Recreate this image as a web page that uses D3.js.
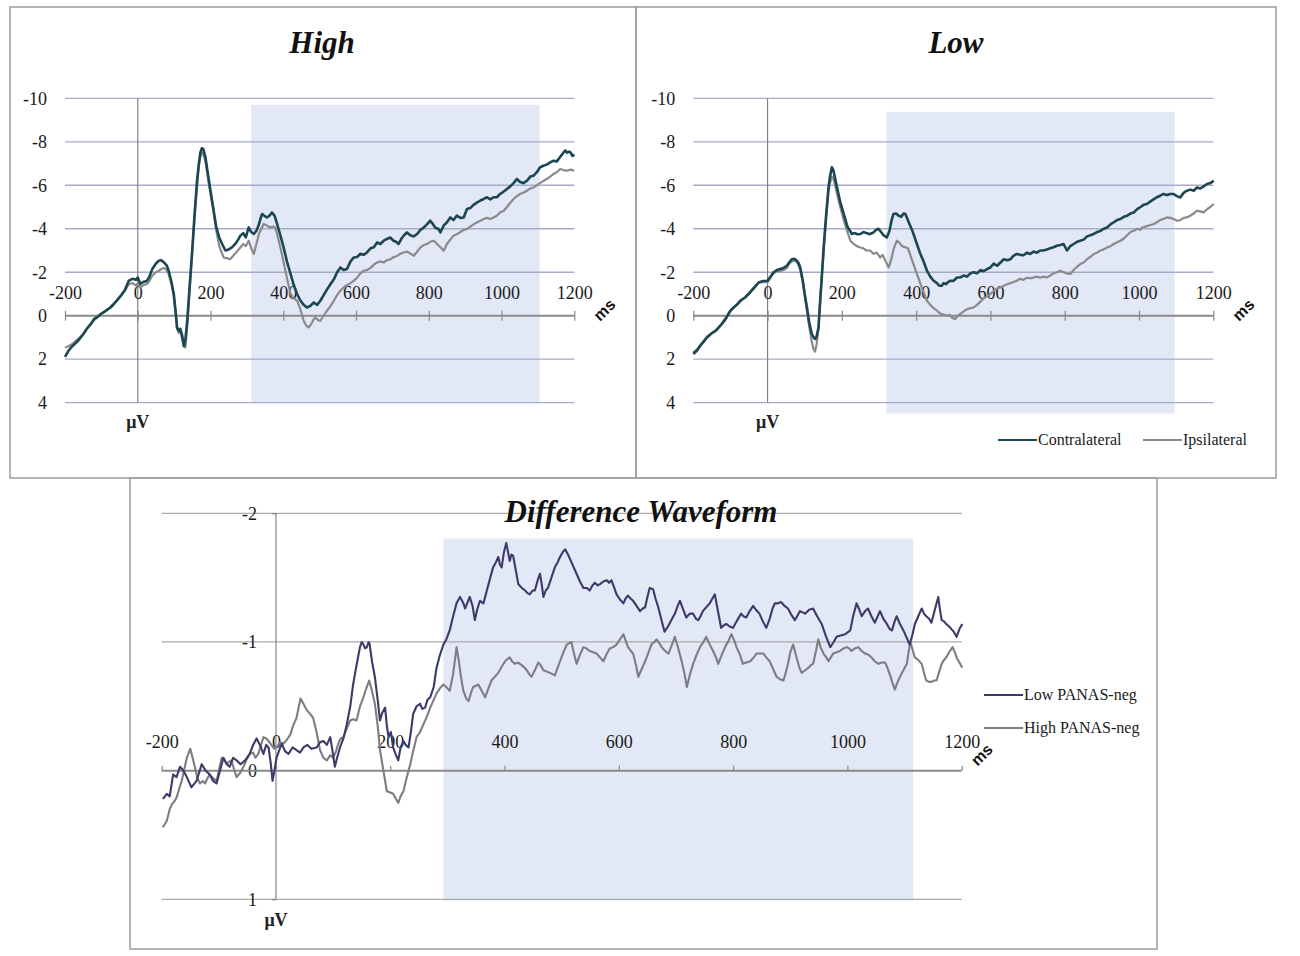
<!DOCTYPE html>
<html><head><meta charset="utf-8">
<script src="https://cdn.jsdelivr.net/npm/d3@7"></script>
<style>
body{margin:0;background:#fff}
svg{display:block}
</style>
</head><body>
<svg id="c" width="1300" height="956"></svg>
<script>
// ---------------- DATA ----------------
const xTicks = [-200, 0, 200, 400, 600, 800, 1000, 1200];
const yTicksTop = [-10, -8, -6, -4, -2, 0, 2, 4];
const yTicksDiff = [-2, -1, 0, 1];
const panelTitles = ["High", "Low", "Difference Waveform"];
const legendTop = ["Contralateral", "Ipsilateral"];
const legendDiff = ["Low PANAS-neg", "High PANAS-neg"];
// analysis windows: [startMs, endMs, topValue, bottomValue]
const windowHigh = [312, 1105, -9.7, 4];
const windowLow = [320, 1096, -9.38, 4.5];
const windowDiff = [293, 1115, -1.805, 1.01];

const highContra = [[-200,1.89],[-190,1.6],[-180,1.4],[-170,1.25],[-160,1.07],[-150,0.85],[-140,0.6],[-130,0.4],[-120,0.15],[-110,0.05],[-100,-0.1],[-90,-0.2],[-75,-0.38],[-65,-0.55],[-55,-0.75],[-45,-0.95],[-35,-1.2],[-25,-1.6],[-15,-1.7],[-5,-1.65],[0,-1.76],[7,-1.46],[15,-1.55],[25,-1.6],[32,-1.8],[40,-2.15],[50,-2.4],[58,-2.53],[65,-2.55],[72,-2.45],[80,-2.3],[85,-2.07],[92,-1.6],[99,-1.0],[104,-0.2],[108,0.54],[113,0.7],[117,0.6],[122,0.9],[127,1.4],[131,1.1],[136,0.23],[142,-1.2],[149,-2.84],[156,-4.6],[163,-6.2],[168,-7.0],[172,-7.5],[176,-7.7],[180,-7.67],[186,-7.3],[193,-6.5],[200,-5.75],[208,-4.9],[216,-4.06],[224,-3.6],[232,-3.3],[241,-3.0],[250,-3.05],[259,-3.14],[268,-3.3],[276,-3.5],[282,-3.68],[290,-3.8],[297,-3.6],[305,-4.06],[312,-3.85],[319,-3.76],[326,-3.9],[333,-4.2],[338,-4.5],[342,-4.68],[348,-4.6],[355,-4.52],[362,-4.6],[369,-4.75],[376,-4.6],[383,-4.22],[392,-3.7],[401,-3.14],[410,-2.5],[420,-1.92],[429,-1.4],[438,-1.0],[447,-0.7],[456,-0.5],[465,-0.38],[474,-0.45],[484,-0.61],[493,-0.5],[502,-0.69],[511,-0.95],[520,-1.2],[530,-1.46],[540,-1.7],[548,-2.0],[557,-2.22],[566,-2.1],[575,-2.15],[585,-2.5],[594,-2.68],[603,-2.7],[612,-2.85],[621,-2.8],[630,-2.91],[640,-3.1],[649,-3.15],[658,-3.37],[667,-3.3],[676,-3.45],[685,-3.53],[694,-3.6],[703,-3.45],[710,-3.4],[717,-3.3],[725,-3.55],[732,-3.7],[740,-3.83],[749,-3.7],[758,-3.65],[768,-3.76],[777,-3.95],[786,-4.05],[795,-4.2],[804,-4.37],[812,-4.2],[818,-4.05],[826,-4.0],[832,-3.83],[841,-4.15],[850,-4.3],[859,-4.52],[868,-4.4],[877,-4.6],[887,-4.5],[896,-4.52],[905,-4.91],[914,-4.95],[923,-5.1],[932,-5.2],[942,-5.3],[951,-5.37],[960,-5.45],[969,-5.35],[978,-5.45],[987,-5.45],[996,-5.6],[1005,-5.7],[1015,-5.83],[1024,-5.95],[1033,-6.1],[1042,-6.29],[1051,-6.15],[1060,-6.1],[1070,-6.21],[1079,-6.4],[1088,-6.44],[1097,-6.6],[1106,-6.83],[1115,-6.9],[1124,-6.95],[1134,-7.05],[1143,-7.13],[1152,-7.1],[1161,-7.3],[1170,-7.5],[1175,-7.6],[1180,-7.5],[1185,-7.55],[1189,-7.52],[1195,-7.35],[1200,-7.41]];

const highIpsi = [[-200,1.46],[-190,1.4],[-180,1.3],[-170,1.15],[-160,1.0],[-150,0.85],[-140,0.6],[-130,0.4],[-120,0.2],[-110,0.05],[-100,-0.08],[-90,-0.2],[-75,-0.4],[-65,-0.55],[-55,-0.75],[-45,-0.95],[-35,-1.15],[-25,-1.45],[-15,-1.5],[-5,-1.4],[0,-1.5],[7,-1.3],[15,-1.4],[25,-1.46],[32,-1.6],[40,-1.85],[50,-2.0],[58,-2.07],[65,-2.15],[72,-2.2],[80,-2.1],[85,-1.9],[92,-1.5],[99,-0.9],[104,-0.1],[108,0.6],[113,0.8],[117,0.7],[122,1.1],[127,1.4],[131,1.46],[136,0.5],[142,-1.0],[149,-2.7],[156,-4.5],[163,-6.0],[168,-6.9],[172,-7.3],[177,-7.5],[181,-7.4],[186,-7.1],[193,-6.3],[200,-5.6],[208,-4.8],[216,-3.9],[224,-3.2],[236,-2.68],[245,-2.65],[254,-2.6],[262,-2.75],[270,-2.9],[282,-3.14],[290,-3.3],[297,-3.2],[305,-3.45],[312,-3.1],[319,-2.84],[326,-3.3],[333,-3.76],[340,-4.0],[346,-4.22],[355,-4.15],[364,-4.06],[371,-4.1],[378,-4.06],[387,-3.5],[396,-2.84],[408,-1.9],[420,-1.0],[429,-0.8],[438,-0.69],[447,-0.3],[456,0.23],[463,0.45],[470,0.54],[478,0.35],[484,0.15],[488,0.08],[495,0.2],[502,0.23],[511,0.0],[520,-0.23],[530,-0.45],[539,-0.69],[548,-0.95],[557,-1.15],[566,-1.3],[575,-1.4],[585,-1.5],[594,-1.61],[603,-1.75],[612,-1.95],[621,-2.07],[630,-2.1],[640,-2.2],[649,-2.35],[658,-2.45],[667,-2.5],[676,-2.45],[685,-2.55],[695,-2.6],[704,-2.7],[713,-2.75],[722,-2.85],[731,-2.91],[741,-2.95],[750,-2.85],[759,-2.76],[768,-2.95],[777,-3.14],[786,-3.25],[795,-3.3],[804,-3.4],[814,-3.45],[823,-3.3],[832,-3.15],[841,-2.99],[850,-3.3],[859,-3.5],[868,-3.68],[877,-3.75],[887,-3.85],[896,-3.95],[905,-3.99],[914,-4.1],[923,-4.2],[933,-4.3],[942,-4.37],[951,-4.45],[960,-4.5],[969,-4.45],[978,-4.52],[987,-4.6],[996,-4.75],[1006,-4.83],[1015,-5.0],[1024,-5.2],[1033,-5.37],[1042,-5.5],[1051,-5.6],[1061,-5.67],[1070,-5.75],[1079,-5.85],[1088,-5.9],[1097,-6.0],[1106,-6.1],[1116,-6.21],[1125,-6.3],[1134,-6.4],[1143,-6.52],[1152,-6.6],[1161,-6.75],[1170,-6.7],[1180,-6.67],[1190,-6.72],[1200,-6.67]];

const lowContra = [[-200,1.76],[-190,1.6],[-180,1.35],[-170,1.15],[-163,1.0],[-150,0.8],[-140,0.7],[-127,0.46],[-115,0.2],[-100,-0.23],[-90,-0.4],[-80,-0.55],[-74,-0.69],[-60,-0.85],[-47,-1.07],[-35,-1.3],[-24,-1.53],[-12,-1.6],[0,-1.61],[8,-1.8],[16,-2.0],[25,-2.1],[34,-2.15],[43,-2.2],[52,-2.3],[58,-2.45],[65,-2.6],[72,-2.62],[79,-2.53],[84,-2.4],[88,-2.22],[95,-1.6],[100,-1.0],[106,-0.38],[112,0.3],[119,0.84],[124,1.0],[128,1.07],[132,0.95],[137,0.54],[142,-0.8],[146,-1.8],[151,-3.14],[157,-4.5],[164,-5.9],[168,-6.4],[173,-6.83],[177,-6.7],[182,-6.3],[187,-5.9],[196,-5.2],[205,-4.68],[215,-4.1],[227,-3.76],[235,-3.8],[242,-3.75],[250,-3.76],[258,-3.85],[266,-3.8],[275,-3.75],[285,-3.83],[292,-3.95],[298,-4.0],[303,-3.91],[312,-3.7],[321,-3.6],[328,-3.9],[334,-4.4],[339,-4.68],[346,-4.7],[353,-4.6],[360,-4.55],[366,-4.7],[371,-4.68],[380,-4.3],[390,-3.9],[402,-3.3],[410,-2.9],[420,-2.5],[429,-2.07],[438,-1.8],[447,-1.61],[456,-1.5],[462,-1.38],[469,-1.38],[474,-1.5],[480,-1.45],[486,-1.55],[492,-1.61],[500,-1.6],[510,-1.76],[519,-1.76],[528,-1.85],[537,-1.8],[546,-1.95],[555,-2.0],[564,-1.95],[573,-2.1],[582,-2.05],[591,-2.15],[600,-2.22],[609,-2.4],[618,-2.3],[627,-2.45],[636,-2.6],[645,-2.55],[654,-2.6],[662,-2.75],[671,-2.84],[680,-2.8],[689,-2.78],[698,-2.9],[707,-2.84],[716,-2.95],[725,-2.9],[734,-3.0],[743,-3.0],[752,-3.05],[761,-3.1],[770,-3.15],[779,-3.22],[788,-3.25],[797,-3.3],[806,-3.0],[815,-3.2],[824,-3.3],[833,-3.4],[842,-3.45],[851,-3.5],[860,-3.65],[869,-3.7],[878,-3.76],[887,-3.85],[896,-3.9],[905,-4.0],[914,-4.06],[923,-4.2],[932,-4.3],[941,-4.4],[950,-4.45],[959,-4.55],[968,-4.6],[977,-4.7],[986,-4.75],[995,-4.9],[1004,-5.0],[1012,-5.1],[1021,-5.14],[1030,-5.25],[1039,-5.35],[1048,-5.45],[1057,-5.52],[1066,-5.6],[1075,-5.55],[1084,-5.6],[1093,-5.6],[1102,-5.5],[1111,-5.44],[1120,-5.65],[1129,-5.75],[1138,-5.8],[1147,-5.75],[1156,-5.9],[1165,-5.85],[1174,-5.95],[1183,-6.06],[1192,-6.1],[1201,-6.21]];

const lowIpsi = [[-200,1.69],[-190,1.55],[-180,1.35],[-170,1.1],[-163,0.95],[-150,0.8],[-140,0.68],[-127,0.45],[-115,0.15],[-100,-0.25],[-90,-0.4],[-80,-0.55],[-74,-0.65],[-60,-0.85],[-47,-1.1],[-35,-1.35],[-24,-1.53],[-12,-1.55],[0,-1.55],[8,-1.75],[16,-1.95],[25,-2.05],[34,-2.05],[43,-2.1],[52,-2.2],[58,-2.4],[65,-2.5],[72,-2.55],[79,-2.45],[84,-2.3],[88,-2.1],[95,-1.5],[100,-0.9],[106,-0.2],[112,0.5],[119,1.2],[124,1.55],[128,1.65],[132,1.3],[137,0.6],[142,-0.8],[146,-1.8],[151,-3.0],[157,-4.3],[164,-5.7],[168,-6.1],[173,-6.4],[177,-6.3],[182,-6.0],[187,-5.6],[196,-4.98],[205,-4.4],[214,-3.9],[223,-3.45],[232,-3.3],[240,-3.2],[250,-3.14],[258,-3.1],[266,-3.0],[276,-3.0],[285,-2.85],[294,-2.9],[303,-2.68],[310,-2.8],[318,-2.5],[326,-2.22],[333,-2.6],[340,-3.1],[348,-3.45],[355,-3.35],[362,-3.2],[370,-3.15],[378,-3.1],[388,-2.6],[402,-1.92],[415,-1.3],[429,-0.69],[438,-0.5],[447,-0.35],[456,-0.23],[465,-0.1],[474,-0.05],[483,0.0],[490,-0.05],[497,0.1],[505,0.15],[512,0.0],[519,-0.08],[528,-0.2],[537,-0.3],[546,-0.35],[555,-0.38],[564,-0.5],[573,-0.65],[582,-0.8],[591,-0.9],[600,-1.0],[609,-1.15],[618,-1.25],[627,-1.3],[636,-1.38],[645,-1.45],[654,-1.5],[662,-1.55],[671,-1.61],[680,-1.7],[689,-1.65],[698,-1.75],[707,-1.72],[716,-1.76],[725,-1.8],[734,-1.75],[743,-1.8],[752,-1.76],[761,-1.85],[770,-1.95],[779,-2.0],[788,-2.07],[797,-2.0],[806,-1.95],[815,-1.92],[824,-2.1],[833,-2.25],[842,-2.38],[851,-2.45],[860,-2.6],[869,-2.7],[878,-2.84],[887,-2.9],[896,-3.0],[905,-3.05],[914,-3.14],[923,-3.2],[932,-3.3],[941,-3.38],[950,-3.45],[959,-3.55],[968,-3.7],[977,-3.85],[986,-3.91],[995,-4.0],[1004,-3.95],[1008,-4.06],[1017,-4.1],[1026,-4.15],[1040,-4.22],[1048,-4.3],[1057,-4.4],[1066,-4.45],[1075,-4.52],[1084,-4.5],[1093,-4.45],[1102,-4.37],[1111,-4.4],[1120,-4.5],[1129,-4.52],[1138,-4.6],[1147,-4.7],[1156,-4.83],[1165,-4.8],[1174,-4.75],[1183,-4.9],[1192,-5.0],[1201,-5.14]];

const lowPanas = [[-198,0.22],[-191,0.18],[-186,0.2],[-180,0.03],[-174,0.05],[-168,-0.03],[-162,0.0],[-156,0.05],[-148,0.13],[-139,0.08],[-130,-0.05],[-123,0.0],[-116,0.03],[-110,0.08],[-104,0.1],[-98,0.0],[-92,-0.1],[-86,-0.05],[-81,-0.03],[-75,-0.1],[-69,-0.08],[-62,-0.05],[-54,-0.08],[-46,-0.13],[-40,-0.2],[-34,-0.25],[-28,-0.2],[-22,-0.13],[-17,-0.2],[-13,-0.18],[-9,-0.05],[-6,0.08],[-2,-0.02],[1,-0.1],[5,-0.15],[10,-0.21],[16,-0.15],[22,-0.13],[29,-0.18],[36,-0.16],[42,-0.14],[48,-0.18],[55,-0.2],[62,-0.17],[71,-0.18],[77,-0.22],[83,-0.23],[89,-0.2],[95,-0.26],[99,-0.15],[103,-0.03],[107,-0.1],[112,-0.18],[118,-0.25],[124,-0.36],[130,-0.5],[135,-0.67],[141,-0.82],[147,-0.96],[150,-1.0],[153,-0.98],[156,-0.95],[159,-0.96],[162,-1.0],[164,-0.98],[168,-0.85],[173,-0.73],[178,-0.55],[182,-0.39],[186,-0.45],[191,-0.49],[194,-0.35],[197,-0.26],[201,-0.3],[205,-0.18],[210,-0.12],[214,-0.08],[218,-0.18],[223,-0.23],[227,-0.2],[232,-0.18],[236,-0.3],[240,-0.44],[246,-0.5],[252,-0.52],[256,-0.48],[261,-0.49],[265,-0.55],[270,-0.57],[276,-0.65],[281,-0.8],[287,-0.9],[293,-0.98],[298,-1.02],[304,-1.09],[310,-1.2],[316,-1.3],[322,-1.35],[328,-1.3],[331,-1.26],[339,-1.35],[344,-1.28],[348,-1.17],[352,-1.25],[357,-1.32],[363,-1.3],[369,-1.4],[375,-1.5],[380,-1.58],[385,-1.62],[389,-1.66],[392,-1.6],[395,-1.58],[399,-1.7],[403,-1.77],[406,-1.7],[409,-1.63],[412,-1.68],[415,-1.67],[420,-1.55],[424,-1.45],[430,-1.42],[436,-1.4],[440,-1.38],[444,-1.37],[449,-1.4],[453,-1.4],[458,-1.48],[462,-1.53],[465,-1.45],[468,-1.35],[472,-1.4],[476,-1.42],[482,-1.5],[488,-1.58],[493,-1.62],[497,-1.66],[502,-1.7],[506,-1.72],[511,-1.68],[517,-1.62],[522,-1.57],[526,-1.53],[532,-1.47],[538,-1.42],[544,-1.42],[549,-1.4],[554,-1.44],[558,-1.46],[563,-1.44],[567,-1.45],[573,-1.47],[579,-1.48],[583,-1.46],[587,-1.48],[592,-1.42],[596,-1.37],[602,-1.33],[608,-1.3],[612,-1.34],[616,-1.36],[620,-1.34],[625,-1.32],[631,-1.28],[637,-1.24],[642,-1.26],[646,-1.27],[650,-1.35],[654,-1.42],[660,-1.41],[664,-1.34],[669,-1.27],[674,-1.18],[680,-1.08],[686,-1.12],[692,-1.17],[698,-1.22],[703,-1.28],[707,-1.32],[712,-1.26],[718,-1.19],[724,-1.22],[730,-1.22],[735,-1.18],[739,-1.17],[743,-1.2],[747,-1.24],[753,-1.27],[759,-1.3],[764,-1.34],[768,-1.37],[773,-1.25],[779,-1.11],[784,-1.13],[788,-1.14],[794,-1.12],[800,-1.11],[806,-1.16],[814,-1.22],[818,-1.2],[823,-1.19],[829,-1.24],[835,-1.28],[840,-1.25],[846,-1.22],[852,-1.16],[858,-1.11],[864,-1.18],[869,-1.26],[873,-1.3],[878,-1.3],[884,-1.31],[890,-1.28],[896,-1.26],[902,-1.21],[908,-1.17],[912,-1.2],[917,-1.24],[926,-1.22],[933,-1.25],[940,-1.26],[947,-1.2],[955,-1.14],[962,-1.05],[970,-0.96],[976,-1.0],[981,-1.04],[988,-1.05],[996,-1.06],[1005,-1.09],[1010,-1.2],[1016,-1.3],[1021,-1.25],[1025,-1.2],[1031,-1.24],[1036,-1.26],[1042,-1.2],[1048,-1.15],[1053,-1.2],[1057,-1.24],[1063,-1.18],[1069,-1.14],[1074,-1.1],[1078,-1.09],[1082,-1.15],[1086,-1.2],[1092,-1.14],[1098,-1.09],[1104,-1.03],[1109,-0.98],[1114,-1.06],[1118,-1.14],[1124,-1.2],[1130,-1.26],[1134,-1.22],[1138,-1.2],[1143,-1.18],[1147,-1.15],[1153,-1.25],[1159,-1.35],[1162,-1.25],[1165,-1.17],[1169,-1.16],[1173,-1.14],[1178,-1.12],[1182,-1.1],[1186,-1.08],[1191,-1.04],[1196,-1.1],[1201,-1.14]];

const highPanas = [[-198,0.44],[-191,0.39],[-186,0.3],[-182,0.26],[-178,0.24],[-174,0.21],[-170,0.15],[-165,0.08],[-160,-0.02],[-156,-0.1],[-150,-0.17],[-146,-0.1],[-142,-0.03],[-138,0.05],[-133,0.1],[-128,0.08],[-124,0.1],[-120,0.06],[-116,0.03],[-110,0.06],[-104,0.08],[-99,-0.02],[-95,-0.1],[-90,-0.08],[-86,-0.05],[-82,-0.07],[-78,-0.08],[-74,-0.02],[-69,0.05],[-63,0.02],[-57,-0.03],[-52,-0.08],[-46,-0.13],[-40,-0.14],[-36,-0.1],[-31,-0.13],[-26,-0.2],[-22,-0.26],[-17,-0.25],[-13,-0.23],[-8,-0.2],[-3,-0.17],[1,-0.18],[7,-0.22],[13,-0.21],[19,-0.24],[25,-0.28],[30,-0.35],[36,-0.41],[40,-0.5],[43,-0.56],[48,-0.52],[54,-0.47],[60,-0.44],[65,-0.41],[71,-0.3],[77,-0.16],[83,-0.1],[89,-0.08],[95,-0.12],[100,-0.1],[105,-0.15],[109,-0.21],[113,-0.25],[118,-0.26],[124,-0.33],[130,-0.39],[135,-0.4],[141,-0.39],[147,-0.5],[153,-0.57],[158,-0.64],[163,-0.7],[168,-0.62],[173,-0.52],[178,-0.35],[182,-0.16],[188,0.0],[194,0.16],[200,0.17],[205,0.18],[210,0.22],[214,0.25],[218,0.2],[223,0.16],[229,0.05],[235,-0.05],[240,-0.15],[246,-0.26],[252,-0.3],[258,-0.36],[264,-0.42],[270,-0.49],[276,-0.55],[281,-0.6],[287,-0.64],[293,-0.67],[298,-0.65],[304,-0.62],[310,-0.75],[316,-0.96],[320,-0.85],[324,-0.72],[328,-0.62],[333,-0.56],[337,-0.54],[341,-0.6],[345,-0.65],[350,-0.66],[354,-0.67],[360,-0.62],[366,-0.57],[371,-0.63],[377,-0.7],[383,-0.73],[389,-0.76],[394,-0.8],[398,-0.83],[403,-0.86],[409,-0.88],[413,-0.85],[418,-0.83],[424,-0.84],[430,-0.82],[435,-0.8],[439,-0.78],[443,-0.75],[447,-0.73],[453,-0.78],[459,-0.84],[463,-0.82],[468,-0.78],[474,-0.77],[479,-0.76],[484,-0.75],[488,-0.74],[493,-0.8],[497,-0.85],[503,-0.92],[509,-0.98],[513,-0.99],[517,-1.0],[521,-0.92],[526,-0.83],[532,-0.9],[538,-0.96],[543,-0.95],[549,-0.93],[555,-0.92],[561,-0.91],[567,-0.88],[573,-0.85],[578,-0.9],[584,-0.95],[590,-0.96],[596,-0.98],[602,-1.02],[608,-1.06],[612,-1.01],[616,-0.96],[621,-0.93],[625,-0.91],[630,-0.82],[634,-0.73],[640,-0.79],[646,-0.85],[652,-0.92],[657,-0.98],[662,-1.0],[666,-1.02],[671,-0.99],[675,-0.96],[681,-0.93],[687,-0.91],[693,-0.98],[698,-1.04],[704,-0.95],[710,-0.85],[715,-0.75],[719,-0.65],[724,-0.74],[730,-0.83],[736,-0.9],[742,-0.96],[748,-1.0],[753,-1.04],[759,-0.98],[765,-0.93],[770,-0.88],[774,-0.83],[780,-0.9],[786,-0.96],[792,-1.01],[797,-1.06],[802,-1.01],[806,-0.96],[812,-0.9],[817,-0.83],[823,-0.84],[830,-0.85],[836,-0.88],[841,-0.91],[847,-0.91],[853,-0.91],[858,-0.88],[864,-0.85],[870,-0.79],[876,-0.73],[882,-0.71],[888,-0.7],[892,-0.76],[896,-0.83],[900,-0.92],[905,-0.98],[911,-0.88],[916,-0.8],[920,-0.76],[926,-0.78],[932,-0.8],[936,-0.82],[940,-0.83],[945,-0.93],[949,-1.02],[953,-0.96],[958,-0.91],[963,-0.88],[967,-0.85],[971,-0.88],[975,-0.91],[981,-0.92],[987,-0.93],[993,-0.95],[999,-0.96],[1003,-0.95],[1007,-0.93],[1013,-0.95],[1019,-0.96],[1025,-0.93],[1031,-0.91],[1037,-0.9],[1042,-0.88],[1048,-0.85],[1054,-0.83],[1060,-0.84],[1066,-0.84],[1070,-0.8],[1074,-0.75],[1079,-0.68],[1083,-0.63],[1087,-0.68],[1092,-0.73],[1098,-0.78],[1104,-0.83],[1107,-0.92],[1110,-1.0],[1114,-0.94],[1118,-0.88],[1124,-0.86],[1130,-0.83],[1134,-0.76],[1138,-0.7],[1143,-0.69],[1147,-0.69],[1152,-0.7],[1156,-0.7],[1160,-0.76],[1165,-0.83],[1169,-0.86],[1173,-0.88],[1178,-0.92],[1184,-0.96],[1188,-0.92],[1191,-0.88],[1196,-0.84],[1201,-0.8]];

// ---------------- STYLE / LAYOUT ----------------
const SERIF = "'Liberation Serif','Times New Roman',serif";
const SANS = "'Liberation Sans',Arial,sans-serif";
const COL_CONTRA = "#1c4652", COL_IPSI = "#8a8a8a";
const COL_LOWP = "#3c3a68", COL_HIGHP = "#7d7d82";
const SHADE = "#e2e8f6";
const fmt = d => String(d);   // plain hyphen-minus like the original

const svg = d3.select("#c");
svg.append("rect").attr("width",1300).attr("height",956).attr("fill","#fff");

function drawPanel(p) {
  const g = svg.append("g");
  const x = d3.scaleLinear().domain([xTicks[0], xTicks[xTicks.length-1]]).range(p.xRange);
  const y = d3.scaleLinear().domain([p.yTicks[0], p.yTicks[p.yTicks.length-1]]).range(p.yRange);

  // border
  g.append("rect").attr("x",p.box[0]).attr("y",p.box[1]).attr("width",p.box[2]-p.box[0]).attr("height",p.box[3]-p.box[1])
    .attr("fill","none").attr("stroke","#a0a0a0").attr("stroke-width",1.6);

  // shaded window
  const w = p.win;
  g.append("rect").attr("x",x(w[0])).attr("y",y(w[2])).attr("width",x(w[1])-x(w[0])).attr("height",y(w[3])-y(w[2]))
    .attr("fill",SHADE);

  // gridlines
  g.selectAll(".grid").data(p.yTicks.filter(v=>v!==0)).join("line")
    .attr("x1",x(xTicks[0])).attr("x2",x(xTicks[xTicks.length-1]))
    .attr("y1",d=>y(d)).attr("y2",d=>y(d))
    .attr("stroke",p.gridCol).attr("stroke-width",1.3);

  // vertical value axis at 0 ms
  g.append("line").attr("x1",x(0)).attr("x2",x(0)).attr("y1",y(p.yTicks[0])).attr("y2",y(p.yTicks[p.yTicks.length-1]))
    .attr("stroke","#7a7a7a").attr("stroke-width",1.1);

  // y tick labels
  const ya = g.append("g").attr("transform",`translate(${p.yAxisX(x)},0)`)
    .call(d3.axisLeft(y).tickValues(p.yTicks).tickSize(p.yTickSize).tickPadding(p.yPad).tickFormat(fmt));
  ya.select(".domain").remove();
  ya.selectAll(".tick line").attr("stroke","#7a7a7a");
  ya.selectAll("text").attr("font-family",SERIF).attr("font-size",p.tickFont).attr("fill","#1a1a1a");
  if (p.hideZeroTickLine) ya.selectAll(".tick line").filter(d=>d!==p.yTicks[0]&&d!==p.yTicks[p.yTicks.length-1]).remove();

  // x axis (time) at 0 µV
  const xa = g.append("g").attr("transform",`translate(0,${y(0)})`)
    .call(d3.axisTop(x).tickValues(xTicks).tickSizeInner(p.xTickUp).tickSizeOuter(0).tickPadding(p.xPad).tickFormat(fmt));
  xa.select(".domain").attr("stroke","#8a8a8a").attr("stroke-width",2).attr("d",`M${x(xTicks[0])},0H${x(xTicks[xTicks.length-1])}`);
  xa.selectAll(".tick line").attr("stroke","#8a8a8a").attr("stroke-width",1.2).attr("y2",-p.xTickUp).attr("y1",p.xTickDown);
  xa.selectAll("text").attr("font-family",SERIF).attr("font-size",p.tickFont).attr("fill","#1a1a1a");

  // series
  const line = d3.line().x(d=>x(d[0])).y(d=>y(d[1]));
  p.series.forEach(s=>{
    g.append("path").datum(s.data).attr("d",line).attr("fill","none")
      .attr("stroke",s.color).attr("stroke-width",s.width).attr("stroke-linejoin","round");
  });

  // title
  g.append("text").attr("x",p.title[1]).attr("y",p.title[2]).attr("text-anchor","middle")
    .attr("font-family",SERIF).attr("font-style","italic").attr("font-weight","bold")
    .attr("font-size",p.titleSize).attr("fill","#111").text(p.title[0]);

  // unit labels
  g.append("text").attr("x",x(0)).attr("y",p.uvY).attr("text-anchor","middle")
    .attr("font-family",SERIF).attr("font-weight","bold").attr("font-size",18).attr("fill","#222").text("μV");
  g.append("text").attr("transform",`translate(${x(xTicks[xTicks.length-1])+p.msOff[0]},${y(0)+p.msOff[1]}) rotate(-45)`)
    .attr("text-anchor","middle").attr("font-family",SANS).attr("font-weight","bold").attr("font-size",16).attr("fill","#111").text("ms");

  // legend
  if (p.legend) {
    p.legend.forEach(l=>{
      g.append("line").attr("x1",l.x).attr("x2",l.x+39).attr("y1",l.y).attr("y2",l.y)
        .attr("stroke",p.series[l.s].color).attr("stroke-width",2.2);
      g.append("text").attr("x",l.x+40).attr("y",l.y+5).attr("font-family",SERIF).attr("font-size",16)
        .attr("fill","#1a1a1a").text(l.text);
    });
  }
}

const topCommon = {
  yTicks: yTicksTop, yRange:[98.3, 402.7], gridCol:"#a6abc8",
  yTickSize:0, yPad:18, tickFont:18, xTickUp:5, xTickDown:5, xPad:12,
  uvY:428, msOff:[34,-2], titleSize:31
};

drawPanel(Object.assign({}, topCommon, {
  xRange:[65, 574.3], box:[10,7,636,478], win:windowHigh,
  yAxisX: x=>x(xTicks[0]),
  title:[panelTitles[0], 322, 53],
  series:[{data:highIpsi,color:COL_IPSI,width:2.2},{data:highContra,color:COL_CONTRA,width:2.6}]
}));

drawPanel(Object.assign({}, topCommon, {
  xRange:[693.3, 1213.3], box:[636,7,1276,478], win:windowLow,
  yAxisX: x=>x(xTicks[0]),
  title:[panelTitles[1], 956, 53],
  series:[{data:lowIpsi,color:COL_IPSI,width:2.2},{data:lowContra,color:COL_CONTRA,width:2.6}],
  legend:[{x:998,y:440,text:legendTop[0],s:1},{x:1143,y:440,text:legendTop[1],s:0}]
}));

drawPanel({
  yTicks: yTicksDiff, yRange:[513.3, 899.3], gridCol:"#ababab",
  xRange:[161.7, 961.7], box:[130,478,1157,949], win:windowDiff,
  yAxisX: x=>x(0), yTickSize:4, yPad:15, hideZeroTickLine:true, tickFont:18,
  xTickUp:5, xTickDown:0, xPad:18,
  uvY:926, msOff:[24,-12], titleSize:31,
  title:[panelTitles[2], 641, 522],
  series:[{data:highPanas,color:COL_HIGHP,width:2.1},{data:lowPanas,color:COL_LOWP,width:2.1}],
  legend:[{x:984,y:695,text:legendDiff[0],s:1},{x:984,y:728,text:legendDiff[1],s:0}]
});
</script>
</body></html>
